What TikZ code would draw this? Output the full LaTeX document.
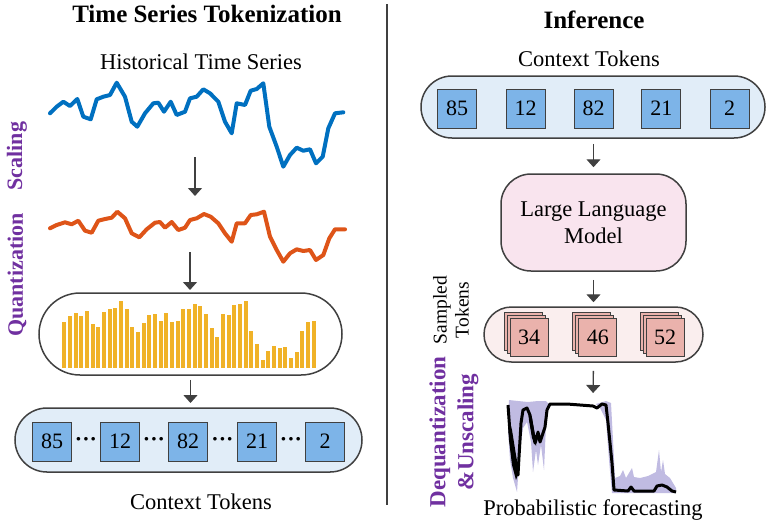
\documentclass[tikz,border=0pt]{standalone}
\usepackage{fontspec}
\setmainfont{Liberation Serif}
\usetikzlibrary{arrows.meta,calc}
\definecolor{dk}{RGB}{64,64,64}
\definecolor{purp}{RGB}{112,48,160}
\definecolor{serblue}{RGB}{0,112,192}
\definecolor{serorange}{RGB}{222,84,24}
\definecolor{bargold}{RGB}{240,178,40}
\definecolor{pillblue}{RGB}{225,237,248}
\definecolor{tokblue}{RGB}{125,180,232}
\definecolor{llmpink}{RGB}{249,228,238}
\definecolor{pillpink}{RGB}{250,238,238}
\definecolor{tokpink}{RGB}{234,178,172}
\definecolor{bandlav}{RGB}{192,187,226}
\begin{document}
\begin{tikzpicture}[x=1pt,y=-1pt,
  arr/.style={draw=dk, line width=1.3pt, -{Triangle[width=14pt,length=8pt]}},
  pill/.style={draw=dk, line width=1.5pt, inner sep=0pt},
  tok/.style={draw=dk, fill=tokblue, line width=1pt, minimum size=39pt, inner sep=0pt, font=\fontsize{22}{24}\selectfont},
  ptok/.style={draw=dk, fill=tokpink, line width=1pt, minimum size=38pt, inner sep=0pt, font=\fontsize{22}{24}\selectfont},
  ttl/.style={font=\fontsize{25}{30}\selectfont\bfseries, anchor=base},
  lbl/.style={font=\fontsize{22.5}{27}\selectfont, anchor=base},
  stage/.style={font=\fontsize{22}{27}\selectfont\bfseries, text=purp, rotate=90, align=center},
  series/.style={line width=4pt, line join=round, line cap=round},
  dots/.style={font=\fontsize{22}{24}\selectfont\bfseries, inner sep=0pt}
]
\useasboundingbox (0,0) rectangle (767,523);

% titles and divider
\node[ttl] (t1) at (207,22) {Time Series Tokenization};
\node[ttl] (t2) at (594,28) {Inference};
\draw[dk, line width=1.5pt] (387,4) -- (387,505);

% ---------- left ----------
\node[lbl] (hist) at (201,69) {Historical Time Series};

\draw[series, serblue] plot coordinates {(50.0,113.3) (56.7,106.7) (63.3,101.7) (70.0,106.0) (77.3,99.0) (83.3,116.7) (90.7,119.3) (96.7,99.3) (103.3,96.7) (110.0,95.0) (116.7,82.7) (125.0,96.7) (131.7,121.7) (137.3,126.7) (145.0,113.3) (153.3,103.3) (158.3,102.7) (164.0,111.7) (170.7,101.7) (176.7,115.0) (185.0,111.7) (190.0,98.3) (196.7,96.7) (203.3,89.3) (210.0,93.3) (218.3,101.7) (225.0,121.7) (231.7,133.3) (236.7,103.3) (245.0,105.0) (250.7,90.7) (256.7,89.0) (263.3,83.3) (269.3,126.7) (276.7,146.7) (283.3,166.7) (290.0,155.0) (296.7,147.7) (303.3,150.7) (310.0,149.3) (316.0,163.3) (322.7,156.7) (328.3,128.3) (335.0,113.3) (343.3,112.3)};

\draw[series, serorange] plot coordinates {(50,228.3) (56.7,225) (65,222.3) (71.7,224.3) (78.3,220.7) (85,230.7) (91.7,232.7) (98.3,220.7) (105,219) (111.7,217.7) (117.3,211.7) (125,218.3) (131.7,233.3) (139.3,237.3) (146.7,229.3) (155,222.7) (160,222) (165,227.7) (171.7,222) (178.3,230) (185,227.7) (190,220) (196.7,218.3) (204,214) (210.7,216.7) (218.3,223.3) (225,233.3) (231.7,241.7) (236.7,223.3) (245,223.3) (250.7,215) (256.7,214.3) (264,211.7) (270,236.7) (276.7,250) (283.3,261.7) (290,253.3) (296.7,249.3) (303.3,251) (310,250) (316,260) (323.3,255) (329.3,238.3) (335,229.3) (345,229.3)};

\node[stage] (scal) at (17,156) {Scaling};
\node[stage] (quan) at (17,275) {Quantization};

\coordinate (a1s) at (195,157);
\coordinate (a1e) at (195,196);
\coordinate (a2s) at (190,252);
\coordinate (a2e) at (190,290);
\draw[arr] (a1s) -- (a1e);
\draw[arr] (a2s) -- (a2e);

% quantized pill
\node[pill, fill=white, minimum width=303pt, minimum height=82pt, rounded corners=41pt] (qpill) at (190.5,334) {};
\foreach \h [count=\i from 0] in {125,108,98,108,92,132,140,95,88,85,62,88,140,157,130,105,102,122,98,126,122,88,88,72,78,102,143,170,102,105,75,72,62,153,193,240,213,197,203,200,233,216,153,126,122}
  \fill[bargold] ({64.3+\i*5.668-2},368) rectangle ({64.3+\i*5.668+2},{280+\h/3});

\draw[arr, shorten <=4pt, shorten >=5pt] (qpill.south) -- (qpill.south |- 0,408);

% left token pill
\node[pill, fill=pillblue, minimum width=347pt, minimum height=64pt, rounded corners=32pt] (tokL) at (188.5,440) {};
\node[tok] (l1) at (52,441.5) {85};
\node[tok] (l2) at (120,441.5) {12};
\node[tok] (l3) at (188,441.5) {82};
\node[tok] (l4) at (257,441.5) {21};
\node[tok] (l5) at (325,441.5) {2};
\foreach \a/\b in {l1/l2,l2/l3,l3/l4,l4/l5}
  \node[dots] at ($(\a)!0.5!(\b)$) {\textperiodcentered\textperiodcentered\textperiodcentered};
\node[lbl] (ctxL) at (201,509) {Context Tokens};

% ---------- right ----------
\node[lbl] (ctxR) at (589,66.7) {Context Tokens};
\node[pill, fill=pillblue, minimum width=344pt, minimum height=62pt, rounded corners=31pt] (tokR) at (593,107) {};
\node[tok] (r1) at (457,108.5) {85};
\node[tok] (r2) at (525.7,108.5) {12};
\node[tok] (r3) at (593.5,108.5) {82};
\node[tok] (r4) at (661.3,108.5) {21};
\node[tok] (r5) at (729.5,108.5) {2};

\node[pill, fill=llmpink, minimum width=185pt, minimum height=97pt, rounded corners=30pt, align=center, font=\fontsize{22.5}{27}\selectfont] (llm) at (593.5,222.5) {Large Language\\Model};
\draw[arr, shorten <=5pt, shorten >=6pt] (tokR.south -| llm.north) -- (llm.north);

\node[pill, fill=pillpink, minimum width=219pt, minimum height=55pt, rounded corners=27.5pt] (samp) at (593.5,334.5) {};
\draw[arr, shorten <=8pt, shorten >=4pt] (llm.south) -- (llm.south |- samp.north);
\foreach \n/\x/\t in {s1/529/34,s2/597.8/46,s3/665/52}{
  \node[ptok] at (\x-6,331.5) {};
  \node[ptok] at (\x-3,334.5) {};
  \node[ptok] (\n) at (\x,337.5) {\t};
}
\node[font=\fontsize{19.5}{22}\selectfont, rotate=90, align=center] (samplbl) at (451,310) {Sampled\\Tokens};

\coordinate (fctop) at (593,398);
\draw[arr, shorten <=8pt, shorten >=5pt] (llm.south |- samp.south) -- (fctop);

\node[stage, font=\fontsize{23}{28}\selectfont\bfseries] (deq) at (454,432) {Dequantization\\\&Unscaling};

% forecast plot: uncertainty band
\fill[bandlav] (509,400) -- (518,401) -- (528,402) -- (538,401) -- (546,401) -- (549,404) -- (546,425) -- (544,470) -- (541,445) -- (538,465) -- (536,450) -- (533,472) -- (531,442) -- (527,422) -- (523,428) -- (520,450) -- (517,492) -- (513,478) -- (510,460) -- (508,430) -- cycle;
\fill[bandlav] (596,404) -- (606,401) -- (611,403) -- (613,440) -- (615,478) -- (620,476) -- (623,470) -- (626,478) -- (632,468) -- (634,477) -- (640,478) -- (648,476) -- (656,472) -- (659,450) -- (661,472) -- (663,460) -- (665,474) -- (670,478) -- (676,488) -- (676,493) -- (612,493) -- (609,460) -- (606,420) -- (600,408) -- cycle;
% median forecast
\draw[black, line width=3pt, line join=round] plot coordinates {(508,405) (510,433) (513,457) (516,470) (518,475) (519,457) (521,423) (523,410) (527,408) (530,415) (533,433) (535,443) (537,437) (538,432) (540,442) (543,433) (545,427) (547,410) (550,404) (567,404) (593,406) (597,408) (602,404) (606,405) (608,423) (612,463) (614,490) (628,491) (631,487) (634,491) (654,491) (657,486) (662,485) (667,487) (672,491) (676,492)};
\fill[black] (508,415) -- (512,430) -- (516,455) -- (519,472) -- (516,480) -- (512,465) -- (509,440) -- cycle;
\fill[black] (528,410) -- (532,418) -- (535,435) -- (537,434) -- (536,446) -- (532,438) -- (529,420) -- cycle;

\node[lbl] (prob) at (593,515) {Probabilistic forecasting};
\end{tikzpicture}
\end{document}
